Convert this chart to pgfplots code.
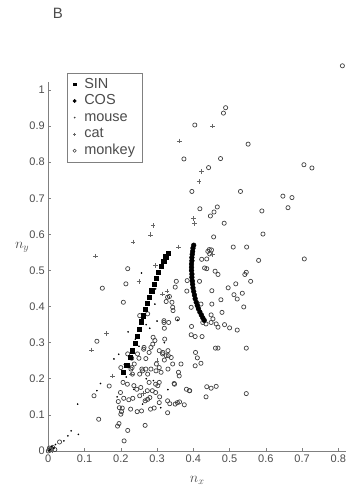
\documentclass[border=0pt]{standalone}
\usepackage{pgfplots}
\pgfplotsset{compat=1.18}
\usepackage{fontspec}
\setmainfont{Liberation Sans}
\setsansfont{Liberation Sans}
\definecolor{axgray}{gray}{0.5}
\definecolor{txtgray}{gray}{0.3}
\definecolor{mkgray}{gray}{0.25}
\definecolor{catgray}{gray}{0.4}

\pgfplotstableread{
x y
0.206 0.218
0.216 0.238
0.225 0.259
0.231 0.278
0.239 0.298
0.245 0.319
0.250 0.338
0.256 0.358
0.262 0.375
0.268 0.393
0.273 0.410
0.279 0.427
0.285 0.444
0.291 0.461
0.297 0.478
0.304 0.495
0.311 0.511
0.318 0.526
0.324 0.538
0.331 0.548
}\sindata

\pgfplotstableread{
x y
0.401 0.570
0.399 0.562
0.398 0.553
0.397 0.545
0.396 0.536
0.396 0.527
0.395 0.518
0.395 0.509
0.395 0.500
0.396 0.490
0.396 0.481
0.397 0.471
0.398 0.462
0.399 0.452
0.401 0.442
0.403 0.432
0.405 0.422
0.408 0.412
0.411 0.403
0.414 0.394
0.418 0.385
0.422 0.377
0.426 0.369
0.430 0.362
}\cosdata

\pgfplotstableread{
x y
0.002 0.001
0.005 0.004
0.010 0.012
0.015 0.008
0.020 0.018
0.043 0.028
0.054 0.042
0.063 0.056
0.083 0.046
0.081 0.130
0.134 0.167
0.144 0.187
0.181 0.255
0.194 0.268
0.257 0.493
0.296 0.449
0.294 0.407
0.357 0.363
0.240 0.310
0.220 0.330
0.270 0.350
0.210 0.240
0.236 0.171
0.290 0.195
0.330 0.170
0.260 0.130
0.310 0.120
0.280 0.340
0.300 0.360
0.215 0.205
0.250 0.290
0.320 0.300
0.190 0.150
0.270 0.200
}\mousedata

\pgfplotstableread{
x y
0.004 0.006
0.010 0.002
0.130 0.540
0.234 0.579
0.282 0.599
0.289 0.625
0.400 0.644
0.403 0.630
0.250 0.470
0.296 0.514
0.359 0.565
0.327 0.443
0.315 0.435
0.161 0.326
0.177 0.208
0.119 0.280
0.230 0.213
0.269 0.142
0.453 0.900
0.361 0.859
0.422 0.775
0.416 0.747
0.452 0.544
0.263 0.160
0.300 0.250
}\catdata

\pgfplotstableread{
x y
0.811 1.067
0.489 0.951
0.483 0.936
0.404 0.903
0.551 0.850
0.374 0.809
0.475 0.810
0.442 0.785
0.705 0.793
0.727 0.784
0.396 0.719
0.530 0.719
0.647 0.706
0.672 0.702
0.661 0.674
0.589 0.665
0.418 0.671
0.466 0.676
0.457 0.662
0.447 0.651
0.485 0.631
0.456 0.593
0.592 0.601
0.510 0.565
0.547 0.565
0.444 0.558
0.440 0.553
0.450 0.557
0.445 0.546
0.423 0.531
0.437 0.532
0.580 0.528
0.706 0.532
0.431 0.507
0.437 0.505
0.460 0.498
0.468 0.489
0.546 0.495
0.542 0.489
0.417 0.470
0.558 0.470
0.517 0.463
0.496 0.452
0.451 0.444
0.535 0.437
0.512 0.433
0.521 0.421
0.476 0.419
0.451 0.407
0.421 0.407
0.539 0.399
0.479 0.384
0.449 0.377
0.454 0.366
0.426 0.356
0.435 0.352
0.449 0.356
0.463 0.352
0.468 0.343
0.486 0.350
0.500 0.341
0.521 0.335
0.424 0.317
0.461 0.285
0.468 0.285
0.546 0.285
0.421 0.243
0.437 0.178
0.449 0.174
0.463 0.179
0.435 0.150
0.546 0.159
0.348 0.185
0.390 0.167
0.168 0.180
0.126 0.153
0.139 0.088
0.031 0.025
0.195 0.076
0.191 0.069
0.219 0.057
0.209 0.028
0.267 0.071
0.134 0.304
0.289 0.315
0.294 0.306
0.321 0.310
0.395 0.345
0.394 0.322
0.405 0.317
0.319 0.356
0.264 0.287
0.278 0.273
0.306 0.278
0.315 0.269
0.331 0.264
0.406 0.273
0.250 0.257
0.230 0.257
0.405 0.236
0.231 0.231
0.258 0.227
0.269 0.227
0.252 0.213
0.298 0.241
0.306 0.231
0.343 0.241
0.366 0.241
0.359 0.218
0.361 0.208
0.206 0.190
0.218 0.185
0.236 0.181
0.278 0.190
0.296 0.185
0.306 0.190
0.244 0.171
0.255 0.176
0.273 0.167
0.287 0.167
0.347 0.187
0.381 0.171
0.389 0.167
0.199 0.162
0.208 0.146
0.193 0.137
0.222 0.142
0.233 0.146
0.252 0.153
0.267 0.139
0.280 0.148
0.296 0.162
0.307 0.150
0.306 0.134
0.329 0.139
0.335 0.131
0.356 0.134
0.375 0.128
0.204 0.119
0.202 0.109
0.227 0.116
0.245 0.109
0.257 0.111
0.282 0.116
0.292 0.119
0.329 0.106
0.196 0.120
0.200 0.102
0.274 0.143
0.302 0.181
0.350 0.130
0.362 0.136
0.219 0.505
0.214 0.463
0.149 0.451
0.207 0.412
0.353 0.470
0.350 0.454
0.383 0.472
0.382 0.443
0.334 0.428
0.341 0.412
0.325 0.414
0.344 0.389
0.329 0.426
0.343 0.398
0.394 0.398
0.319 0.361
0.320 0.340
0.332 0.356
0.274 0.380
0.356 0.366
0.252 0.375
0.411 0.258
0.316 0.273
0.330 0.278
0.325 0.264
0.339 0.259
0.320 0.252
0.288 0.296
0.283 0.287
0.263 0.282
0.246 0.269
0.269 0.256
0.219 0.269
0.237 0.241
0.220 0.236
0.200 0.231
0.228 0.227
0.232 0.213
0.260 0.222
0.274 0.213
0.283 0.227
0.297 0.222
0.311 0.218
0.330 0.227
0.000 0.000
0.004 0.002
0.008 0.006
0.012 0.010
0.018 0.004
0.003 0.008
}\monkeydata

\begin{document}
\begin{tikzpicture}
\begin{axis}[
  at={(48.3pt,38pt)}, anchor=south west,
  scale only axis, width=297.7pt, height=369.3pt,
  xmin=0, xmax=0.821, ymin=0, ymax=1.023,
  axis x line*=bottom, axis y line*=left,
  axis line style={axgray, line width=0.8pt},
  xtick={0,0.1,0.2,0.3,0.4,0.5,0.6,0.7,0.8},
  xticklabels={0,0.1,0.2,0.3,0.4,0.5,0.6,0.7,0.8},
  ytick={0,0.1,0.2,0.3,0.4,0.5,0.6,0.7,0.8,0.9,1},
  yticklabels={0,0.1,0.2,0.3,0.4,0.5,0.6,0.7,0.8,0.9,1},
  tick align=inside, major tick length=3pt,
  tick style={axgray, line width=0.6pt},
  ticklabel style={font=\fontsize{11}{13}\selectfont, text=txtgray},
  clip=false,
  xlabel={$n_x$}, ylabel={$n_y$},
  label style={font=\fontsize{14}{16}\selectfont, text=txtgray},
  xlabel style={at={(axis description cs:0.5,-0.0785)}, anchor=center},
  ylabel style={at={(axis description cs:-0.088,0.552)}, anchor=center, rotate=-90},
  legend style={at={(0.062,1.024)}, anchor=north west, draw=axgray, line width=0.6pt,
    font=\fontsize{14.5}{16}\selectfont, text=txtgray,
    nodes={inner sep=1.5pt, text height=10pt, text depth=2.5pt},
    row sep=1.1pt, inner xsep=6pt, inner ysep=3.5pt,
    /tikz/every odd column/.append style={column sep=6.5pt}},
  legend cell align=left,
  legend image code/.code={\draw[mark repeat=2, mark phase=2, #1] plot coordinates {(0pt,0pt)(1pt,0pt)(2pt,0pt)};},
]
\addlegendimage{only marks, mark=square*, mark size=1.4pt, black}
\addlegendentry{SIN}
\addlegendimage{only marks, mark=*, mark size=1.6pt, black}
\addlegendentry{COS}
\addlegendimage{only marks, mark=*, mark size=0.5pt, mkgray}
\addlegendentry{mouse}
\addlegendimage{only marks, mark=+, mark size=1.6pt, catgray, line width=0.4pt}
\addlegendentry{cat}
\addlegendimage{only marks, mark=o, mark size=1.6pt, mkgray, line width=0.5pt}
\addlegendentry{monkey}

\addplot[forget plot, only marks, mark=o, mark size=2.1pt, mkgray, line width=0.7pt] table {\monkeydata};
\addplot[forget plot, only marks, mark=+, mark size=2.3pt, catgray, line width=0.45pt] table {\catdata};
\addplot[forget plot, only marks, mark=*, mark size=0.6pt, black] table {\mousedata};
\addplot[forget plot, only marks, mark=square*, mark size=2.1pt, black] table {\sindata};
\addplot[forget plot, only marks, mark=*, mark size=2.4pt, black] table {\cosdata};
\end{axis}
\node[font=\fontsize{15}{17}\selectfont, text=txtgray] at (58pt,476pt) {B};
\pgfresetboundingbox
\path (0,0) rectangle (348pt,489pt);
\end{tikzpicture}
\end{document}
